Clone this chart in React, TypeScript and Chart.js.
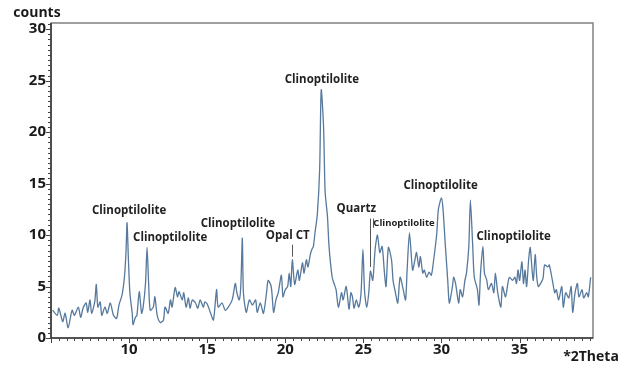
import { useEffect, useRef } from "react";
import { Chart, registerables } from "chart.js";

Chart.register(...registerables);

// Diffraction angle (°2θ) and measured intensity (counts)
const twoTheta = [
  5.1, 5.4, 5.5, 5.75, 5.9, 6.1, 6.35, 6.5, 6.75, 6.9, 7.05, 7.25, 7.35, 7.5, 7.6, 7.8, 7.9, 8.0, 8.15, 8.25,
  8.45, 8.6, 8.8, 9.0, 9.2, 9.35, 9.55, 9.7, 9.8, 9.87, 9.95, 10.05, 10.2, 10.25, 10.4, 10.5, 10.65, 10.8, 10.9, 11.05,
  11.15, 11.25, 11.35, 11.55, 11.65, 11.8, 12.0, 12.2, 12.3, 12.5, 12.65, 12.75, 12.95, 13.1, 13.2, 13.4, 13.5, 13.65, 13.8, 13.9,
  14.05, 14.25, 14.4, 14.55, 14.75, 14.85, 15.0, 15.2, 15.4, 15.6, 15.7, 15.95, 16.15, 16.35, 16.6, 16.8, 16.9, 17.05, 17.15, 17.25,
  17.32, 17.5, 17.7, 17.9, 18.1, 18.2, 18.4, 18.6, 18.8, 18.9, 19.1, 19.25, 19.4, 19.55, 19.75, 19.85, 20.0, 20.15, 20.25, 20.35,
  20.45, 20.6, 20.8, 20.9, 21.1, 21.2, 21.35, 21.45, 21.6, 21.7, 21.8, 21.9, 22.05, 22.2, 22.3, 22.45, 22.55, 22.7, 22.8, 23.0,
  23.12, 23.25, 23.4, 23.6, 23.7, 23.9, 24.08, 24.2, 24.3, 24.4, 24.55, 24.7, 24.85, 24.97, 25.08, 25.22, 25.35, 25.45, 25.6, 25.75,
  25.9, 26.05, 26.2, 26.35, 26.45, 26.6, 26.8, 26.9, 27.05, 27.2, 27.35, 27.55, 27.7, 27.8, 27.95, 28.15, 28.3, 28.4, 28.55, 28.65,
  28.8, 28.9, 29.05, 29.2, 29.35, 29.5, 29.7, 29.8, 30.0, 30.1, 30.25, 30.4, 30.5, 30.7, 30.78, 30.9, 31.1, 31.2, 31.35, 31.5,
  31.6, 31.75, 31.85, 32.0, 32.1, 32.3, 32.4, 32.5, 32.65, 32.75, 32.9, 33.0, 33.2, 33.35, 33.45, 33.6, 33.8, 33.9, 34.1, 34.25,
  34.35, 34.55, 34.7, 34.8, 34.9, 35.0, 35.15, 35.25, 35.35, 35.45, 35.58, 35.68, 35.8, 35.88, 36.0, 36.1, 36.2, 36.35, 36.5, 36.6,
  36.8, 36.9, 37.1, 37.25, 37.35, 37.5, 37.7, 37.8, 37.95, 38.15, 38.3, 38.4, 38.55, 38.7, 38.8, 39.0, 39.1, 39.3, 39.4, 39.55,
];

const counts = [
  2.7, 2.2, 2.9, 1.6, 2.4, 1.0, 2.7, 2.2, 3.0, 2.0, 2.9, 3.4, 2.5, 3.7, 2.4, 3.5, 5.2, 3.0, 3.5, 2.2,
  3.0, 2.4, 3.4, 2.2, 1.9, 3.2, 4.2, 5.9, 8.3, 11.2, 7.9, 4.4, 2.4, 1.3, 2.0, 2.2, 4.5, 2.4, 3.0, 5.3,
  8.8, 5.3, 2.7, 3.0, 4.0, 2.2, 1.5, 1.75, 3.0, 2.4, 3.7, 3.0, 4.9, 4.0, 4.5, 3.7, 4.4, 3.0, 3.9, 2.9,
  3.7, 3.4, 2.9, 3.7, 3.0, 3.5, 3.3, 2.5, 1.75, 4.7, 3.0, 3.4, 2.7, 3.0, 3.7, 5.3, 4.4, 3.7, 5.0, 9.7,
  4.4, 2.5, 3.7, 3.2, 3.7, 2.5, 3.4, 2.4, 4.4, 5.6, 5.0, 2.5, 3.7, 4.4, 6.1, 4.0, 4.7, 5.0, 6.3, 5.0,
  7.6, 5.2, 6.6, 5.6, 7.3, 6.3, 7.6, 6.9, 8.1, 8.6, 8.9, 10.2, 12.0, 16.4, 24.1, 20.5, 14.2, 11.8, 8.9, 5.9,
  5.3, 4.7, 3.0, 4.4, 3.7, 5.0, 2.8, 4.4, 4.0, 2.9, 3.7, 3.0, 4.4, 8.6, 4.4, 3.0, 4.5, 6.5, 5.6, 8.6,
  10.0, 8.3, 8.9, 6.3, 5.0, 8.8, 7.6, 5.6, 4.4, 3.4, 5.9, 4.7, 3.7, 6.6, 10.2, 6.6, 7.6, 8.3, 6.9, 7.9,
  6.3, 6.6, 5.9, 6.4, 6.1, 7.6, 10.2, 12.5, 13.6, 12.5, 8.9, 5.6, 3.4, 5.0, 5.9, 5.3, 3.4, 4.7, 4.0, 5.6,
  6.3, 8.9, 13.4, 8.9, 5.9, 4.7, 3.2, 6.3, 8.9, 6.3, 5.6, 4.7, 5.3, 4.4, 6.3, 4.4, 3.0, 5.0, 4.0, 5.3,
  5.9, 5.6, 5.9, 5.3, 6.6, 5.6, 7.4, 5.3, 6.6, 5.0, 7.6, 8.8, 6.6, 5.6, 8.1, 5.9, 5.0, 5.3, 5.8, 7.1,
  6.9, 7.1, 5.6, 4.4, 4.7, 3.7, 5.0, 3.0, 4.4, 3.9, 5.0, 2.5, 4.4, 5.3, 4.0, 4.7, 3.9, 4.4, 4.0, 5.9,
];

// Axis ranges and labelled ticks
const xMin = 5;
const xMax = 39.7;
const yMin = 0;
const yMax = 30.6;
const xTickLabels = [10, 15, 20, 25, 30, 35];
const yTickLabels = [0, 5, 10, 15, 20, 25, 30];

// Phase labels: text, centre position in data units, small flag
const phaseNames = [
  "Clinoptilolite", "Clinoptilolite", "Clinoptilolite", "Opal CT", "Clinoptilolite",
  "Quartz", "Clinoptilolite", "Clinoptilolite", "Clinoptilolite",
];
const phaseX = [10.0, 12.63, 16.96, 20.16, 22.34, 24.55, 27.6, 29.94, 34.62];
const phaseY = [12.4, 9.74, 11.15, 9.93, 25.07, 12.56, 11.15, 14.75, 9.83];
const phaseSmall = [false, false, false, false, false, false, true, false, false];

// Vertical marker lines (°2θ, from, to)
const markerX = [20.45, 25.45, 25.62];
const markerFrom = [7.9, 6.9, 10.7];
const markerTo = [9.06, 11.6, 11.6];

const LABEL_FONT = '"Open Sans", "Liberation Sans", sans-serif';

const decorPlugin = {
  id: "xrdDecor",
  afterDraw(chart: any) {
    const { ctx, chartArea: a } = chart;
    const xs = chart.scales.x;
    const ys = chart.scales.y;
    ctx.save();

    // frame
    ctx.strokeStyle = "#808080";
    ctx.lineWidth = 1.5;
    ctx.strokeRect(a.left, a.top, a.right - a.left, a.bottom - a.top);

    // axis lines
    ctx.strokeStyle = "#3c3c3c";
    ctx.lineWidth = 1.6;
    ctx.beginPath();
    ctx.moveTo(a.left, a.top);
    ctx.lineTo(a.left, a.bottom);
    ctx.lineTo(a.right, a.bottom);
    ctx.stroke();

    // tick marks every 0.5
    ctx.lineWidth = 1;
    ctx.strokeStyle = "#444";
    ctx.beginPath();
    for (let i = 0; xMin + i * 0.5 <= xMax; i++) {
      const v = xMin + i * 0.5;
      const px = Math.round(xs.getPixelForValue(v)) + 0.5;
      const len = v % 5 === 0 ? 5 : 3;
      ctx.moveTo(px, a.bottom);
      ctx.lineTo(px, a.bottom + len);
    }
    for (let i = 0; yMin + i * 0.5 <= yMax; i++) {
      const v = yMin + i * 0.5;
      const py = Math.round(ys.getPixelForValue(v)) + 0.5;
      const len = v % 5 === 0 ? 5 : 3;
      ctx.moveTo(a.left, py);
      ctx.lineTo(a.left - len, py);
    }
    ctx.stroke();

    // marker lines
    ctx.strokeStyle = "#555";
    ctx.lineWidth = 1;
    ctx.beginPath();
    markerX.forEach((mx, i) => {
      const px = Math.round(xs.getPixelForValue(mx)) + 0.5;
      ctx.moveTo(px, ys.getPixelForValue(markerFrom[i]));
      ctx.lineTo(px, ys.getPixelForValue(markerTo[i]));
    });
    ctx.stroke();

    // phase labels
    ctx.fillStyle = "#222";
    ctx.textBaseline = "middle";
    ctx.textAlign = "center";
    phaseNames.forEach((name, i) => {
      ctx.font = phaseSmall[i] ? `bold 9.5px ${LABEL_FONT}` : `bold 11.5px ${LABEL_FONT}`;
      ctx.fillText(name, xs.getPixelForValue(phaseX[i]), ys.getPixelForValue(phaseY[i]));
    });

    // axis titles
    ctx.fillStyle = "#1a1a1a";
    ctx.font = `bold 14px ${LABEL_FONT}`;
    ctx.fillText("counts", a.left - 14, a.top - 10);
    ctx.fillText("*2Theta", a.right - 2, a.bottom + 19);
    ctx.restore();
  },
};

export default function App() {
  const canvasRef = useRef<HTMLCanvasElement | null>(null);

  useEffect(() => {
    if (!canvasRef.current) return;
    const points = twoTheta.map((t, i) => ({ x: t, y: counts[i] }));
    const tickFont = { family: LABEL_FONT, size: 15, weight: "bold" as const };
    const chart = new Chart(canvasRef.current, {
      type: "line",
      data: {
        datasets: [
          {
            data: points,
            borderColor: "#56799d",
            borderWidth: 1.3,
            pointRadius: 0,
            tension: 0.25,
            fill: false,
          },
        ],
      },
      plugins: [decorPlugin],
      options: {
        responsive: false,
        animation: false,
        devicePixelRatio: 1,
        layout: { padding: { top: 23, right: 34, left: 0, bottom: 0 } },
        plugins: { legend: { display: false }, tooltip: { enabled: false } },
        scales: {
          x: {
            type: "linear",
            min: xMin,
            max: xMax,
            grid: { display: false, drawTicks: false },
            border: { display: false },
            afterFit: (s: any) => {
              s.height = 27;
            },
            afterBuildTicks: (s: any) => {
              s.ticks = xTickLabels.map((v) => ({ value: v }));
            },
            ticks: {
              autoSkip: false,
              maxRotation: 0,
              padding: 3,
              color: "#1a1a1a",
              font: tickFont,
            },
          },
          y: {
            min: yMin,
            max: yMax,
            grid: { display: false, drawTicks: false },
            border: { display: false },
            afterFit: (s: any) => {
              s.width = 51;
            },
            afterBuildTicks: (s: any) => {
              s.ticks = yTickLabels.map((v) => ({ value: v }));
            },
            ticks: {
              autoSkip: false,
              padding: 5,
              color: "#1a1a1a",
              font: tickFont,
            },
          },
        },
      },
    });
    return () => chart.destroy();
  }, []);

  return (
    <div style={{ position: "fixed", left: 0, top: 0, width: 627, height: 365, background: "#fff" }}>
      <canvas ref={canvasRef} width={627} height={365} />
    </div>
  );
}
